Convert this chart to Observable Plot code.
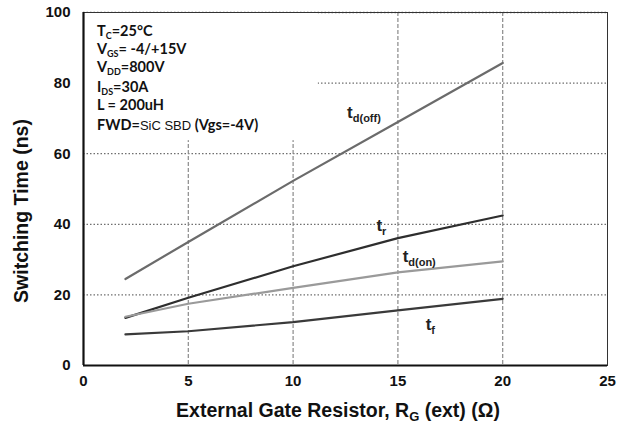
<!DOCTYPE html>
<html><head><meta charset="utf-8">
<script src="https://cdn.jsdelivr.net/npm/d3@7"></script>
<script src="https://cdn.jsdelivr.net/npm/@observablehq/plot@0.6"></script>
<style>body{margin:0;background:#fff}#chart{width:625px;height:427px}</style>
</head><body><div id="chart"></div>
<script>
// ---- data ----
const rg    = [2, 5, 10, 15, 20];                 // External gate resistor (Ω)
const tdOff = [24.5, 35.0, 52.3, 69.0, 85.7];     // ns
const tr    = [13.5, 19.2, 28.1, 36.1, 42.5];
const tdOn  = [13.8, 17.5, 22.0, 26.4, 29.5];
const tf    = [8.8, 9.7, 12.3, 15.6, 18.9];
const seriesNames  = ["td(off)", "tr", "td(on)", "tf"];
const seriesColors = ["#6b6b6b", "#2e2e2e", "#9a9a9a", "#3a3a3a"];
const xTicks = [0, 5, 10, 15, 20, 25];
const yTicks = [0, 20, 40, 60, 80, 100];
const gridXvals = [5, 10, 15, 20];
const gridYvals = [20, 40, 60, 80, 100];
// series label anchors (data coords) and their text parts
const labelX = [12.6, 14.0, 15.25, 16.35];
const labelY = [70.0, 38.0, 29.2, 9.9];
const labelMain = ["t", "t", "t", "t"];
const labelSub  = ["d(off)", "r", "d(on)", "f"];
// test-condition annotation box (data coords of the white note area)
const noteBox = [{x1: 0, x2: 11.2, y1: 63.7, y2: 100}];
const noteLines = [
  [["T"], ["C", "sub"], ["=25°C"]],
  [["V"], ["GS", "sub"], ["= -4/+15V"]],
  [["V"], ["DD", "sub"], ["=800V"]],
  [["I"], ["DS", "sub"], ["=30A"]],
  [["L = 200uH"]],
  [["FWD="], ["SiC SBD", "light"], [" (Vgs=-4V)"]]
];

const values = [tdOff, tr, tdOn, tf];
const rows = [];
values.forEach((arr, si) => arr.forEach((v, i) => rows.push({series: seriesNames[si], x: rg[i], y: v})));

const chart = Plot.plot({
  width: 625, height: 427,
  marginLeft: 83, marginRight: 18, marginTop: 12, marginBottom: 62,
  style: {fontFamily: "'Liberation Sans', Arial, sans-serif", background: "#fff"},
  x: {domain: [0, 25]},
  y: {domain: [0, 100]},
  color: {domain: seriesNames, range: seriesColors},
  marks: [
    Plot.gridY(gridYvals, {stroke: "#6f6f6f", strokeOpacity: 1, strokeWidth: 1.3, strokeDasharray: "1.5,2"}),
    Plot.gridX(gridXvals, {stroke: "#8a8a8a", strokeOpacity: 1, strokeWidth: 1.2, strokeDasharray: "4,2"}),
    Plot.rect(noteBox, {x1: "x1", x2: "x2", y1: "y1", y2: "y2", fill: "white"}),
    Plot.line(rows, {x: "x", y: "y", z: "series", stroke: "series", strokeWidth: 2.2}),
    Plot.frame({stroke: "#333", strokeWidth: 1}),
    Plot.ruleX([0], {stroke: "#111", strokeWidth: 2.2}),
    Plot.ruleY([0], {stroke: "#111", strokeWidth: 2.2}),
    Plot.axisX({ticks: xTicks, tickSize: 0, tickPadding: 10, fontSize: 15, fontWeight: "bold", label: null, fill: "#111"}),
    Plot.axisY({ticks: yTicks, tickSize: 0, tickPadding: 13, fontSize: 15, fontWeight: "bold", label: null, fill: "#111"})
  ]
});
document.getElementById("chart").appendChild(chart);

const sx = chart.scale("x"), sy = chart.scale("y");
const svg = d3.select(chart);

// series labels with subscripts
labelMain.forEach((m, i) => {
  const t = svg.append("text")
    .attr("x", sx.apply(labelX[i])).attr("y", sy.apply(labelY[i]))
    .attr("text-anchor", "start")
    .attr("font-family", "'Liberation Sans', Arial, sans-serif")
    .attr("font-weight", "bold").attr("fill", "#222");
  t.append("tspan").attr("font-size", 17).text(m);
  t.append("tspan").attr("font-size", 11).attr("dy", 4).text(labelSub[i]);
});

// test-condition note
const noteFont = "Lato, 'Open Sans', sans-serif";
const noteBaselines = [36, 54, 72, 92, 110, 130];
noteLines.forEach((parts, li) => {
  const t = svg.append("text")
    .attr("x", sx.apply(0) + 14).attr("y", noteBaselines[li])
    .attr("text-anchor", "start")
    .attr("font-family", noteFont).attr("font-size", 14.5)
    .attr("font-weight", "bold").attr("fill", "#111");
  let shifted = false;
  parts.forEach(([s, kind]) => {
    const ts = t.append("tspan").text(s);
    if (kind === "sub") { ts.attr("font-size", 9).attr("dy", 3); shifted = true; }
    else {
      if (shifted) { ts.attr("dy", -3); shifted = false; }
      if (kind === "light") ts.attr("font-weight", "normal").attr("font-family", "'Liberation Sans', Arial, sans-serif").attr("font-size", 13);
    }
  });
});

// axis titles
const xt = svg.append("text")
  .attr("x", 338).attr("y", 417).attr("text-anchor", "middle")
  .attr("font-family", "'Liberation Sans', Arial, sans-serif")
  .attr("font-size", 19.5).attr("font-weight", "bold").attr("fill", "#111");
xt.append("tspan").text("External Gate Resistor, R");
xt.append("tspan").attr("font-size", 13).attr("dy", 4).text("G");
xt.append("tspan").attr("dy", -4).text(" (ext) (Ω)");

svg.append("text")
  .attr("transform", "translate(28,211) rotate(-90)")
  .attr("text-anchor", "middle")
  .attr("font-family", "'Liberation Sans', Arial, sans-serif")
  .attr("font-size", 19.5).attr("font-weight", "bold").attr("fill", "#111")
  .text("Switching Time (ns)");
</script>
</body></html>
